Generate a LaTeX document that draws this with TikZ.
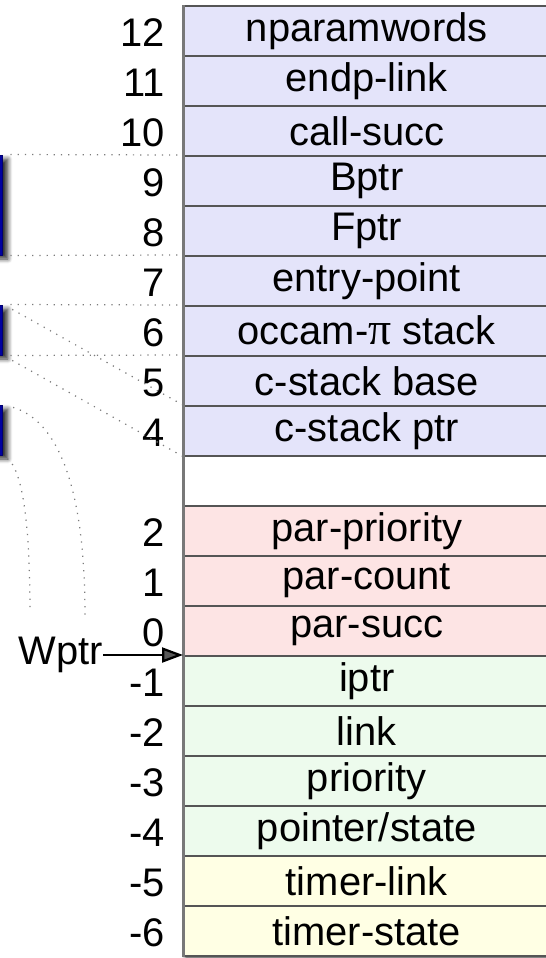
\documentclass[tikz,border=0pt]{standalone}
\usepackage{fontspec}
\setmainfont{Liberation Sans}
\newfontfamily\pifont{Liberation Serif}
\usetikzlibrary{arrows.meta, positioning, calc, shadows.blur}
\definecolor{wsblue}{HTML}{E4E4FA}
\definecolor{wsred}{HTML}{FDE4E4}
\definecolor{wsgreen}{HTML}{EDFBED}
\definecolor{wsyellow}{HTML}{FFFFE4}
\definecolor{wsline}{HTML}{555555}
\definecolor{wsedge}{HTML}{787878}
\definecolor{ptrblue}{HTML}{0000A0}
\definecolor{guidegray}{HTML}{7C7C7C}

\begin{document}
\begin{tikzpicture}[
    every node/.style={font=\fontsize{22.7}{26}\selectfont},
    cell/.style={fill=#1, draw=wsline, line width=0.03cm, minimum width=7.32cm, minimum height=1cm,
                 inner sep=0pt, anchor=north west},
    slot/.style={anchor=east, inner sep=0pt},
    ptrbox/.style={fill=ptrblue, draw=ptrblue!70!black, line width=0.02cm, minimum width=0.6cm, inner sep=0pt,
                   blur shadow={shadow blur steps=6, shadow xshift=0.1cm, shadow yshift=-0.08cm,
                                shadow blur radius=0.09cm, shadow opacity=80}},
    guide/.style={guidegray, line width=0.7pt, dash pattern=on 0.7pt off 3.4pt},
]

\useasboundingbox (0,0) rectangle (10.92,-19.16);

% Table shadow
\fill[white, blur shadow={shadow blur steps=5, shadow xshift=0.05cm, shadow yshift=-0.07cm, shadow opacity=70}]
      (3.66,-0.1) rectangle (10.98,-19.1);

% === Workspace slots ===
\foreach \i/\num/\txt/\col in {1/12/nparamwords/wsblue, 2/11/endp-link/wsblue, 3/10/call-succ/wsblue,
        4/9/Bptr/wsblue, 5/8/Fptr/wsblue, 6/7/entry-point/wsblue, 7/6/{occam-{\pifont\fontsize{26}{26}\selectfont π} stack}/wsblue,
        8/5/c-stack base/wsblue, 9/4/c-stack ptr/wsblue, 10/{}/{}/white,
        11/2/par-priority/wsred, 12/1/par-count/wsred, 13/0/par-succ/wsred,
        14/-1/iptr/wsgreen, 15/-2/link/wsgreen, 16/-3/priority/wsgreen, 17/-4/{pointer/state}/wsgreen,
        18/-5/timer-link/wsyellow, 19/-6/timer-state/wsyellow} {
    \node[cell=\col] (r\i) at (3.66,{0.9-\i}) {\txt};
    \node[slot] (n\i) at (3.3,{0.35-\i}) {\num};
}
\draw[wsedge, line width=0.06cm] (r1.north west) -- (r19.south west);

% === Pointer boxes on the left ===
\node[ptrbox, minimum height=2cm] (ptrA) at (-0.24,-4.1) {};
\node[ptrbox, minimum height=1cm] (ptrB) at (-0.24,-6.6) {};
\node[ptrbox, minimum height=1cm] (ptrC) at (-0.24,-8.6) {};

% Guides
\draw[guide, shorten <=0.14cm] (ptrA.north east) -- (r4.north west);
\draw[guide, shorten <=0.14cm] (ptrA.south east) -- (r6.north west);
\draw[guide, shorten <=0.14cm] (ptrB.north east) -- (r7.north west);
\draw[guide, shorten <=0.14cm] (ptrB.south east) -- (r8.north west);
\draw[guide, shorten <=0.2cm] (ptrB.north east) -- (r9.north west);
\draw[guide, shorten <=0.2cm] (ptrB.south east) -- (r9.south west);

% === Wptr ===
\node[anchor=east, inner sep=0pt] (wptr) at (2.06,-13.1) {Wptr};
\draw[-{Triangle[length=0.42cm, width=0.3cm]}, line width=0.045cm] (wptr.east) -- (r14.north west);

\coordinate (wtopR) at (1.7,-12.3);
\coordinate (wtopL) at (0.6,-12.26);
\draw[guide, shorten <=0.2cm] (ptrC.north east) .. controls (1.1,-8.4) and (1.7,-9.6) .. (wtopR);
\draw[guide, shorten <=0.1cm] (ptrC.south east) .. controls (0.44,-9.4) and (0.6,-10.4) .. (wtopL);

\end{tikzpicture}
\end{document}
